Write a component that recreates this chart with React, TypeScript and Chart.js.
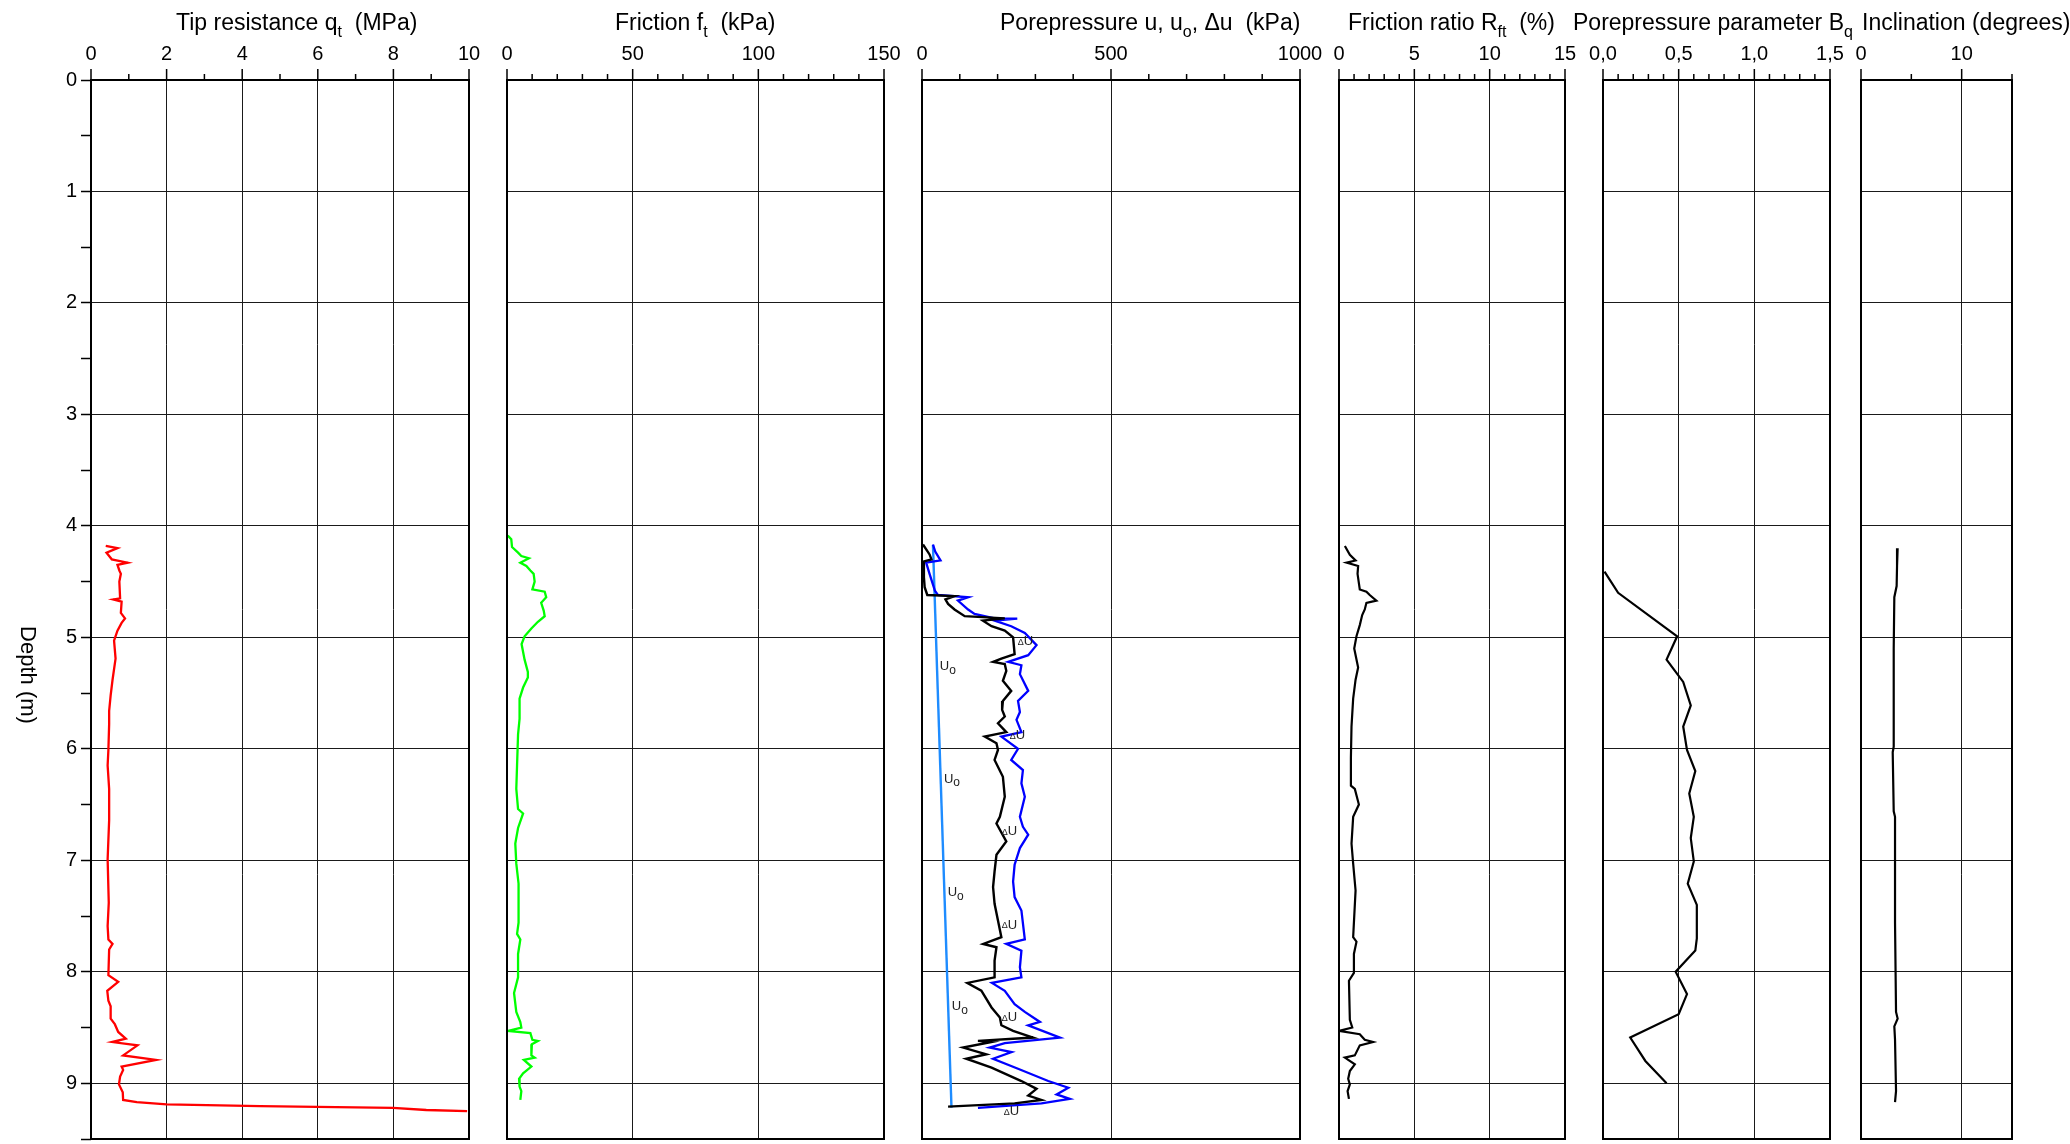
import React, { useEffect, useRef } from 'react';
import { Chart, registerables } from 'chart.js';

Chart.register(...registerables);

const FONT = '"Liberation Sans", Arial, Helvetica, sans-serif';

// ---------------- data (depth in m) ----------------
const qtDepth = [4.18, 4.2, 4.24, 4.3, 4.33, 4.35, 4.4, 4.43, 4.5, 4.65, 4.66, 4.68, 4.78, 4.83, 4.87, 4.94, 5.03, 5.19, 5.38, 5.52, 5.66, 5.78, 6.01, 6.15, 6.36, 6.64, 6.99, 7.38, 7.59, 7.71, 7.75, 7.8, 8.03, 8.09, 8.17, 8.26, 8.31, 8.42, 8.47, 8.54, 8.6, 8.63, 8.66, 8.75, 8.79, 8.85, 8.88, 8.94, 9.01, 9.08, 9.15, 9.17, 9.19, 9.205, 9.22, 9.24, 9.25];
const qtValue = [0.39, 0.7, 0.41, 0.55, 0.97, 0.7, 0.75, 0.79, 0.75, 0.77, 0.59, 0.81, 0.79, 0.9, 0.81, 0.7, 0.61, 0.65, 0.57, 0.52, 0.48, 0.48, 0.46, 0.44, 0.48, 0.48, 0.44, 0.47, 0.44, 0.46, 0.57, 0.48, 0.46, 0.72, 0.43, 0.46, 0.52, 0.52, 0.63, 0.72, 0.92, 0.56, 1.23, 0.85, 1.72, 0.81, 0.85, 0.77, 0.74, 0.84, 0.85, 1.21, 2.0, 4.47, 7.99, 8.87, 9.95];

const ftDepth = [4.087, 4.12, 4.19, 4.24, 4.27, 4.29, 4.33, 4.36, 4.4, 4.43, 4.5, 4.57, 4.59, 4.64, 4.69, 4.76, 4.81, 4.86, 4.92, 4.99, 5.06, 5.2, 5.31, 5.36, 5.45, 5.55, 5.73, 5.87, 6.15, 6.36, 6.54, 6.58, 6.71, 6.85, 7.03, 7.21, 7.56, 7.66, 7.71, 7.84, 8.05, 8.19, 8.36, 8.45, 8.5, 8.53, 8.55, 8.61, 8.62, 8.65, 8.75, 8.77, 8.79, 8.85, 8.91, 8.96, 9.03, 9.07, 9.15];
const ftValue = [0.3, 1.7, 2.0, 4.4, 5.7, 8.7, 5.3, 7.7, 9.3, 10.6, 11.0, 10.1, 15.0, 15.6, 13.6, 14.6, 15.0, 12.3, 9.7, 7.0, 5.8, 7.0, 8.3, 8.3, 6.4, 5.0, 5.0, 4.4, 4.0, 3.7, 4.4, 6.4, 4.4, 3.3, 3.7, 4.6, 4.6, 4.0, 5.3, 4.4, 4.4, 2.8, 3.7, 5.3, 5.7, 0.4, 9.3, 10.1, 12.3, 9.9, 9.7, 11.0, 6.7, 9.7, 6.4, 4.8, 5.0, 5.7, 5.3];

const duDepth = [4.167, 4.256, 4.3, 4.32, 4.46, 4.55, 4.62, 4.63, 4.66, 4.7, 4.75, 4.81, 4.83, 4.85, 4.9, 4.94, 5.0, 5.15, 5.19, 5.22, 5.24, 5.3, 5.39, 5.48, 5.57, 5.65, 5.71, 5.77, 5.85, 5.89, 5.95, 6.01, 6.1, 6.25, 6.43, 6.61, 6.67, 6.83, 6.95, 7.1, 7.24, 7.39, 7.54, 7.69, 7.75, 7.78, 7.9, 8.05, 8.1, 8.17, 8.32, 8.41, 8.48, 8.53, 8.59, 8.62, 8.63, 8.68, 8.74, 8.78, 8.86, 8.98, 9.05, 9.11, 9.15, 9.18, 9.21];
const duValue = [2.6, 20, 25, 3, 5, 7, 14, 86, 62, 69, 86, 113, 219, 161, 184, 219, 241, 245, 210, 188, 219, 223, 214, 236, 214, 212, 219, 201, 223, 166, 197, 201, 192, 214, 219, 206, 197, 223, 197, 192, 188, 192, 201, 210, 162, 197, 192, 192, 120, 157, 184, 206, 210, 241, 294, 148, 184, 109, 170, 117, 184, 263, 303, 281, 316, 245, 69];

const uDepth = [4.167, 4.23, 4.31, 4.33, 4.43, 4.58, 4.62, 4.64, 4.67, 4.75, 4.79, 4.83, 4.832, 4.85, 4.9, 4.96, 5.07, 5.16, 5.22, 5.25, 5.33, 5.48, 5.57, 5.67, 5.74, 5.85, 5.89, 6.0, 6.1, 6.19, 6.31, 6.43, 6.61, 6.7, 6.77, 6.89, 7.04, 7.19, 7.33, 7.45, 7.71, 7.75, 7.81, 7.96, 8.05, 8.1, 8.17, 8.29, 8.36, 8.45, 8.48, 8.59, 8.64, 8.68, 8.72, 8.78, 8.87, 8.98, 9.04, 9.1, 9.14, 9.18, 9.22];
const uValue = [29, 35, 49, 11, 20, 34, 42, 122, 95, 122, 139, 192, 252, 192, 236, 272, 303, 281, 228, 263, 259, 281, 254, 259, 250, 263, 210, 254, 236, 267, 263, 272, 259, 267, 281, 259, 245, 241, 245, 263, 272, 223, 263, 259, 263, 185, 219, 245, 272, 312, 281, 365, 219, 179, 237, 188, 254, 334, 387, 356, 391, 316, 148];

const u0Depth = [4.17, 9.22];
const u0Value = [29, 78];

const rfDepth = [4.18, 4.26, 4.31, 4.33, 4.36, 4.43, 4.57, 4.59, 4.62, 4.67, 4.69, 4.75, 4.8, 4.89, 4.99, 5.1, 5.27, 5.38, 5.55, 5.8, 6.08, 6.33, 6.36, 6.5, 6.61, 6.85, 7.03, 7.27, 7.69, 7.73, 7.84, 8.01, 8.08, 8.43, 8.5, 8.53, 8.56, 8.61, 8.63, 8.66, 8.75, 8.77, 8.83, 8.89, 8.96, 9.01, 9.07, 9.14];
const rfValue = [0.39, 0.72, 1.1, 0.5, 1.27, 1.23, 1.38, 1.82, 2.04, 2.48, 1.82, 1.71, 1.54, 1.38, 1.16, 1.01, 1.27, 1.1, 0.94, 0.83, 0.79, 0.79, 1.05, 1.32, 0.94, 0.83, 0.94, 1.1, 0.94, 1.16, 0.99, 0.99, 0.66, 0.72, 0.88, 0.0, 1.38, 1.71, 2.26, 1.38, 1.05, 0.39, 1.05, 0.72, 0.61, 0.72, 0.57, 0.66];

const bqDepth = [4.41, 4.6, 4.99, 5.2, 5.4, 5.61, 5.8, 6.01, 6.2, 6.4, 6.61, 6.8, 7.01, 7.21, 7.4, 7.7, 7.81, 8.0, 8.2, 8.38, 8.59, 8.8, 9.0];
const bqValue = [0.01, 0.1, 0.49, 0.42, 0.53, 0.58, 0.53, 0.555, 0.61, 0.57, 0.6, 0.58, 0.6, 0.56, 0.62, 0.62, 0.61, 0.48, 0.555, 0.5, 0.18, 0.28, 0.42];

const incDepth = [4.2, 4.36, 4.54, 4.64, 5.1, 5.98, 6.03, 6.56, 6.61, 7.56, 8.36, 8.42, 8.49, 8.61, 9.07, 9.17];
const incValue = [3.64, 3.58, 3.54, 3.31, 3.25, 3.25, 3.15, 3.25, 3.38, 3.38, 3.48, 3.64, 3.31, 3.38, 3.48, 3.38];

// curve labels in the porepressure panel (value in kPa, depth in m)
const uoLabelDepth = [5.26, 6.27, 7.29, 8.31];
const uoLabelValue = [47, 58, 68, 79];
const duLabelDepth = [5.04, 5.88, 6.74, 7.58, 8.41, 9.25];
const duLabelValue = [253, 232, 211, 211, 211, 216];

const depthMin = 0;
const depthMax = 9.5;

// ---------------- helpers ----------------
type Part = { t: string; sub?: boolean };

interface PanelCfg {
  id: string;
  left: number;
  right: number;
  padL: number;
  padR: number;
  min: number;
  max: number;
  major: number;
  minor: number;
  includeBounds: boolean;
  fmt: (v: number) => string;
  title: Part[];
  titleX: number;
  depthAxis?: boolean;
  datasets: any[];
  labels?: boolean;
}

const pts = (d: number[], v: number[]) => d.map((y, i) => ({ x: v[i], y }));

const line = (d: number[], v: number[], color: string, width = 2) => ({
  data: pts(d, v),
  borderColor: color,
  backgroundColor: color,
  borderWidth: width,
  pointRadius: 0,
  showLine: true,
  tension: 0,
  fill: false,
});

const PLOT_TOP = 80;
const PLOT_BOTTOM = 1139;
const H = 1144;

function drawRich(ctx: CanvasRenderingContext2D, parts: Part[], x: number, y: number, size: number, subSize: number, subDy: number) {
  let cx = x;
  for (const p of parts) {
    ctx.font = `${p.sub ? subSize : size}px ${FONT}`;
    ctx.fillText(p.t, cx, p.sub ? y + subDy : y);
    cx += ctx.measureText(p.t).width;
  }
}

const panels: PanelCfg[] = [
  {
    id: 'qt', left: 91, right: 469, padL: 0, padR: 40, min: 0, max: 10, major: 2, minor: 1, includeBounds: true,
    fmt: (v) => String(v), title: [{ t: 'Tip resistance q' }, { t: 't', sub: true }, { t: '  (MPa)' }], titleX: 176,
    depthAxis: true, datasets: [line(qtDepth, qtValue, '#ff0000', 2.3)],
  },
  {
    id: 'ft', left: 507, right: 884, padL: 40, padR: 40, min: 0, max: 150, major: 50, minor: 10, includeBounds: true,
    fmt: (v) => String(v), title: [{ t: 'Friction f' }, { t: 't', sub: true }, { t: '  (kPa)' }], titleX: 615,
    datasets: [line(ftDepth, ftValue, '#00ff00', 2.3)],
  },
  {
    id: 'u', left: 922, right: 1300, padL: 40, padR: 40, min: 0, max: 1000, major: 500, minor: 100, includeBounds: true,
    fmt: (v) => String(v), title: [{ t: 'Porepressure u, u' }, { t: 'o', sub: true }, { t: ', \u0394u  (kPa)' }], titleX: 1000,
    datasets: [line(duDepth, duValue, '#000000', 2.4), line(uDepth, uValue, '#0000ff', 2.3), line(u0Depth, u0Value, '#1e8cff', 2.4)],
    labels: true,
  },
  {
    id: 'rf', left: 1339, right: 1565, padL: 40, padR: 40, min: 0, max: 15, major: 5, minor: 1, includeBounds: true,
    fmt: (v) => String(v), title: [{ t: 'Friction ratio R' }, { t: 'ft', sub: true }, { t: '  (%)' }], titleX: 1348,
    datasets: [line(rfDepth, rfValue, '#000000', 2.2)],
  },
  {
    id: 'bq', left: 1603, right: 1830, padL: 40, padR: 40, min: 0, max: 1.5, major: 0.5, minor: 0.1, includeBounds: true,
    fmt: (v) => v.toFixed(1).replace('.', ','), title: [{ t: 'Porepressure parameter B' }, { t: 'q', sub: true }], titleX: 1573,
    datasets: [line(bqDepth, bqValue, '#000000', 2.2)],
  },
  {
    id: 'inc', left: 1861, right: 2012, padL: 40, padR: 58, min: 0, max: 15, major: 10, minor: 5, includeBounds: false,
    fmt: (v) => String(v), title: [{ t: 'Inclination (degrees)' }], titleX: 1862,
    datasets: [line(incDepth, incValue, '#000000', 2.2)],
  },
];

function Panel({ cfg }: { cfg: PanelCfg }) {
  const ref = useRef<HTMLCanvasElement | null>(null);
  const canvasLeft = cfg.depthAxis ? 0 : cfg.left - cfg.padL;
  const canvasWidth = cfg.right + cfg.padR - canvasLeft;

  useEffect(() => {
    const canvas = ref.current;
    if (!canvas) return;
    const zeroPad = (s: any) => {
      s.paddingTop = 0;
      s.paddingBottom = 0;
      s.paddingLeft = 0;
      s.paddingRight = 0;
    };
    const decor = {
      id: 'decor_' + cfg.id,
      afterDatasetsDraw(chart: any) {
        if (!cfg.labels) return;
        const ctx: CanvasRenderingContext2D = chart.ctx;
        const xs = chart.scales.x;
        const ys = chart.scales.y;
        ctx.save();
        ctx.fillStyle = '#222';
        ctx.textBaseline = 'middle';
        ctx.textAlign = 'left';
        uoLabelDepth.forEach((d, i) => {
          const px = xs.getPixelForValue(uoLabelValue[i]);
          const py = ys.getPixelForValue(d);
          drawRich(ctx, [{ t: 'U' }, { t: 'o', sub: true }], px, py, 13, 12, 4);
        });
        duLabelDepth.forEach((d, i) => {
          const px = xs.getPixelForValue(duLabelValue[i]);
          const py = ys.getPixelForValue(d);
          ctx.font = `9px ${FONT}`;
          ctx.fillText('\u0394', px, py + 1);
          const w = ctx.measureText('\u0394').width;
          ctx.font = `13px ${FONT}`;
          ctx.fillText('U', px + w, py);
        });
        ctx.restore();
      },
      afterDraw(chart: any) {
        const ctx: CanvasRenderingContext2D = chart.ctx;
        const a = chart.chartArea;
        const xs = chart.scales.x;
        ctx.save();
        // frame
        ctx.strokeStyle = '#000';
        ctx.lineWidth = 2;
        ctx.strokeRect(a.left, a.top, a.right - a.left, a.bottom - a.top);
        // top tick marks (major + minor)
        ctx.lineWidth = 1.5;
        const n = Math.round((cfg.max - cfg.min) / cfg.minor);
        for (let i = 0; i <= n; i++) {
          const v = cfg.min + i * cfg.minor;
          const r = v / cfg.major;
          const isMajor = Math.abs(r - Math.round(r)) < 1e-6;
          const px = xs.getPixelForValue(v);
          ctx.beginPath();
          ctx.moveTo(px, a.top);
          ctx.lineTo(px, a.top - (isMajor ? 11 : 6));
          ctx.stroke();
        }
        // title
        ctx.fillStyle = '#000';
        ctx.textAlign = 'left';
        ctx.textBaseline = 'alphabetic';
        drawRich(ctx, cfg.title, cfg.titleX - canvasLeft, 30, 23, 16, 7);
        // depth axis title
        if (cfg.depthAxis) {
          ctx.save();
          ctx.translate(27, 675);
          ctx.rotate(Math.PI / 2);
          ctx.font = `22px ${FONT}`;
          ctx.textAlign = 'center';
          ctx.textBaseline = 'middle';
          ctx.fillText('Depth (m)', 0, 0);
          ctx.restore();
        }
        ctx.restore();
      },
    };

    const chart = new Chart(canvas, {
      type: 'scatter',
      data: { datasets: cfg.datasets },
      options: {
        responsive: false,
        maintainAspectRatio: false,
        animation: false,
        events: [],
        layout: { padding: { left: cfg.depthAxis ? 0 : cfg.padL, right: cfg.padR, top: 0, bottom: H - PLOT_BOTTOM } },
        plugins: { legend: { display: false }, tooltip: { enabled: false }, title: { display: false } },
        scales: {
          x: {
            type: 'linear',
            position: 'top',
            min: cfg.min,
            max: cfg.max,
            ticks: {
              stepSize: cfg.major,
              includeBounds: cfg.includeBounds,
              autoSkip: false,
              maxRotation: 0,
              padding: 14,
              color: '#000',
              font: { family: FONT, size: 20 },
              callback: (v: any) => cfg.fmt(Number(v)),
            },
            grid: { color: '#1a1a1a', lineWidth: 1, drawTicks: false },
            border: { display: false },
            afterFit: (s: any) => {
              s.height = PLOT_TOP;
              zeroPad(s);
            },
          },
          y: {
            type: 'linear',
            reverse: true,
            min: depthMin,
            max: depthMax,
            ticks: {
              display: !!cfg.depthAxis,
              stepSize: cfg.depthAxis ? 0.5 : 1,
              autoSkip: false,
              padding: 4,
              color: '#000',
              font: { family: FONT, size: 20 },
              callback: (v: any) => (Number.isInteger(Number(v)) ? String(v) : ''),
            },
            grid: {
              color: (c: any) => (c.tick && Number.isInteger(c.tick.value) ? '#1a1a1a' : 'rgba(0,0,0,0)'),
              lineWidth: 1,
              drawTicks: !!cfg.depthAxis,
              tickLength: 10,
              tickColor: '#000',
              tickWidth: 1.5,
            },
            border: { display: false },
            afterFit: (s: any) => {
              s.width = cfg.depthAxis ? cfg.left : 0;
              zeroPad(s);
            },
          },
        },
      } as any,
      plugins: [decor],
    });
    return () => chart.destroy();
  }, [cfg]);

  return (
    <canvas
      ref={ref}
      width={canvasWidth}
      height={H}
      style={{ position: 'absolute', left: canvasLeft, top: 0, width: canvasWidth, height: H }}
    />
  );
}

export default function App() {
  useEffect(() => {
    document.body.style.margin = '0';
  }, []);
  return (
    <div style={{ position: 'fixed', left: 0, top: 0, width: 2070, height: H, background: '#fff', overflow: 'hidden' }}>
      {panels.map((p) => (
        <Panel key={p.id} cfg={p} />
      ))}
    </div>
  );
}
